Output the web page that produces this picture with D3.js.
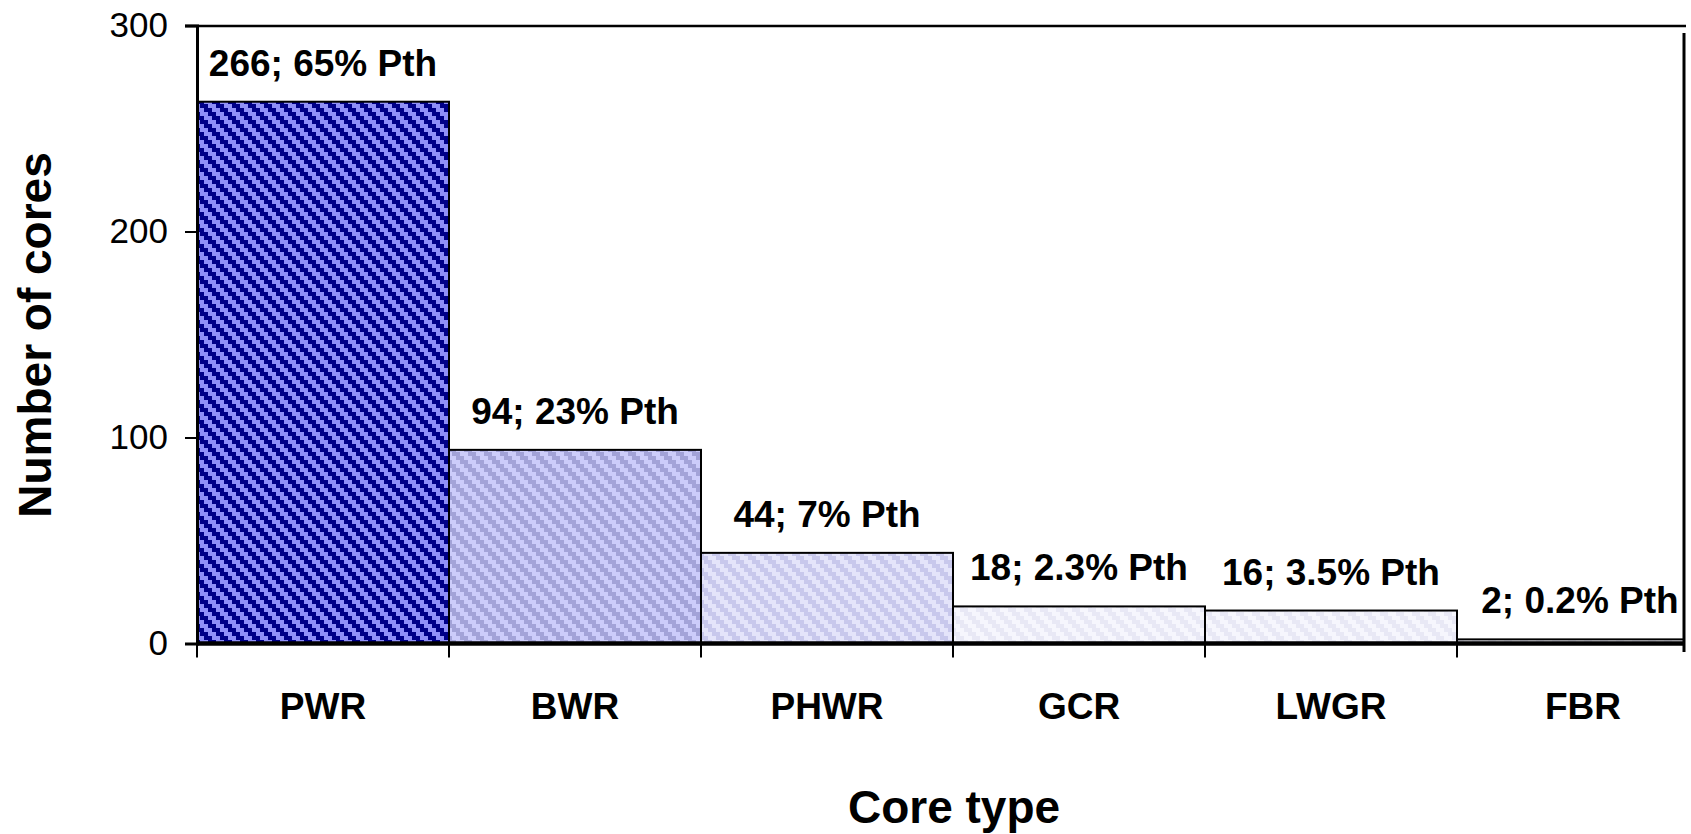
<!DOCTYPE html>
<html>
<head>
    <title>Core types</title>
    <script src="https://d3js.org/d3.v7.min.js"></script>
    <style>
        body { margin: 0; background: #fff; }
        text { font-family: "Liberation Sans", Arial, sans-serif; }
    </style>
</head>
<body>
    <svg id="chart" width="1691" height="834"></svg>

    <script>
        // data
        const coreTypes = ['PWR', 'BWR', 'PHWR', 'GCR', 'LWGR', 'FBR'];
        const coreCounts = [263, 94, 44, 18, 16, 2];
        const barLabels = ['266; 65% Pth', '94; 23% Pth', '44; 7% Pth', '18; 2.3% Pth', '16; 3.5% Pth', '2; 0.2% Pth'];
        const yTicks = [0, 100, 200, 300];

        // hatch colours per bar: [dark, light]
        const hatchColors = [
            ['#000088', '#8f8ff8'],
            ['#a3a3d8', '#ccccfa'],
            ['#c8c8ec', '#e4e4fa'],
            ['#e8e8f5', '#f6f6fd'],
            ['#e8e8f5', '#f6f6fd'],
            ['#e8e8f5', '#f6f6fd']
        ];

        const svg = d3.select('#chart');
        const plotLeft = 197, plotRight = 1684, plotTop = 26, plotBottom = 643.5;
        const step = 252;

        const x = d3.scaleBand()
            .domain(coreTypes)
            .range([plotLeft, plotLeft + step * coreTypes.length])
            .padding(0);

        const y = d3.scaleLinear()
            .domain([0, 300])
            .range([plotBottom, 25.5]);

        // blocky diagonal hatch patterns (4x4 cells of 4px)
        const defs = svg.append('defs');
        const u = 4;
        hatchColors.forEach((c, i) => {
            const p = defs.append('pattern')
                .attr('id', 'hatch' + i)
                .attr('patternUnits', 'userSpaceOnUse')
                .attr('width', 4 * u)
                .attr('height', 4 * u);
            p.append('rect')
                .attr('width', 4 * u)
                .attr('height', 4 * u)
                .attr('fill', c[1]);
            for (let r = 0; r < 4; r++) {
                for (let k = 0; k < 2; k++) {
                    const col = (r + k) % 4;
                    p.append('rect')
                        .attr('x', col * u)
                        .attr('y', r * u)
                        .attr('width', u)
                        .attr('height', u)
                        .attr('fill', c[0]);
                }
            }
        });

        defs.append('clipPath').attr('id', 'plotClip')
            .append('rect')
            .attr('x', plotLeft).attr('y', 0)
            .attr('width', plotRight - plotLeft).attr('height', plotBottom + 20);

        // bars
        svg.append('g')
            .attr('clip-path', 'url(#plotClip)')
            .selectAll('rect')
            .data(coreCounts)
            .join('rect')
            .attr('x', (d, i) => x(coreTypes[i]))
            .attr('y', d => y(d))
            .attr('width', x.bandwidth())
            .attr('height', d => plotBottom - y(d))
            .attr('fill', (d, i) => 'url(#hatch' + i + ')')
            .attr('stroke', '#000')
            .attr('stroke-width', 2);

        // value labels
        svg.append('g')
            .selectAll('text')
            .data(coreCounts)
            .join('text')
            .attr('x', (d, i) => Math.min(x(coreTypes[i]) + x.bandwidth() / 2, 1580))
            .attr('y', d => y(d) - 26)
            .attr('text-anchor', 'middle')
            .attr('font-size', '37px')
            .attr('font-weight', 'bold')
            .text((d, i) => barLabels[i]);

        // frame: top and right lines
        svg.append('line')
            .attr('x1', 185).attr('x2', 1686)
            .attr('y1', plotTop).attr('y2', plotTop)
            .attr('stroke', '#000').attr('stroke-width', 2.5);
        svg.append('line')
            .attr('x1', plotRight).attr('x2', plotRight)
            .attr('y1', 33).attr('y2', 652)
            .attr('stroke', '#000').attr('stroke-width', 3);

        // y axis
        const yAxis = svg.append('g')
            .attr('transform', `translate(${plotLeft},0)`)
            .call(d3.axisLeft(y).tickValues(yTicks).tickSize(12).tickPadding(17));
        yAxis.select('.domain').attr('stroke-width', 3);
        yAxis.selectAll('.tick line').attr('stroke-width', 2);
        yAxis.selectAll('.tick text')
            .attr('font-size', '35px')
            .attr('font-family', '"Liberation Sans", Arial, sans-serif')
            .attr('fill', '#000');

        // x axis: thick baseline with ticks at category boundaries
        svg.append('line')
            .attr('x1', plotLeft).attr('x2', plotRight)
            .attr('y1', plotBottom).attr('y2', plotBottom)
            .attr('stroke', '#000').attr('stroke-width', 4.5);
        svg.append('g')
            .selectAll('line')
            .data(coreTypes)
            .join('line')
            .attr('x1', d => x(d)).attr('x2', d => x(d))
            .attr('y1', plotBottom).attr('y2', plotBottom + 14)
            .attr('stroke', '#000').attr('stroke-width', 2);

        svg.append('g')
            .selectAll('text')
            .data(coreTypes)
            .join('text')
            .attr('x', d => Math.min(x(d) + x.bandwidth() / 2, 1597))
            .attr('y', 719)
            .attr('text-anchor', 'middle')
            .attr('font-size', '37px')
            .attr('font-weight', 'bold')
            .text(d => d);

        // axis titles
        svg.append('text')
            .attr('x', 954)
            .attr('y', 823)
            .attr('text-anchor', 'middle')
            .attr('font-size', '46px')
            .attr('font-weight', 'bold')
            .text('Core type');

        svg.append('text')
            .attr('transform', 'translate(51,335) rotate(-90)')
            .attr('text-anchor', 'middle')
            .attr('font-size', '46px')
            .attr('font-weight', 'bold')
            .text('Number of cores');
    </script>
</body>
</html>
